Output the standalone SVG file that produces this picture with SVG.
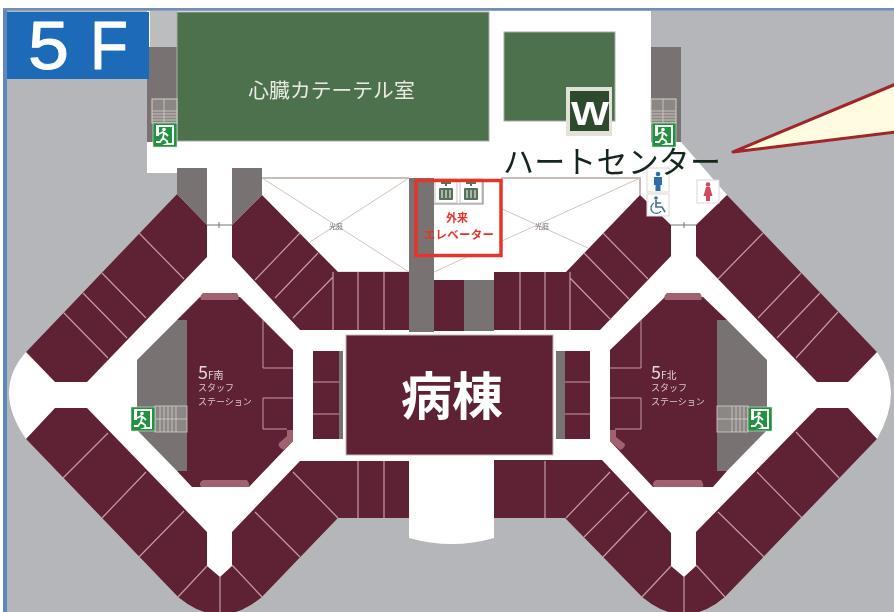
<svg xmlns="http://www.w3.org/2000/svg" xmlns:xlink="http://www.w3.org/1999/xlink" width="894" height="612" viewBox="0 0 894 612">
<style>
.m{fill:#5e2134}
.g{fill:#787372}
.gr{fill:#4d6f4e;stroke:#a9ada3;stroke-width:1}
.d{stroke:#c79aa4;stroke-width:1.2;fill:none}
.r{stroke:#c79aa4;stroke-width:1;fill:none}
.p{fill:#a0626f}
.w{stroke:#cfc5bf;stroke-width:1;fill:none}
.s{stroke:#d5cdc8;stroke-width:.8;fill:none}
.jp{font-family:"Noto Sans CJK JP","Liberation Sans",sans-serif}
.st{font-size:9px;fill:#dcc9cd}
.big{font-family:"Liberation Sans",sans-serif;font-size:68px;fill:#fff;stroke:#fff;stroke-width:1px;stroke-linejoin:round}
</style>
<defs>
<filter id="soft" x="0" y="0" width="100%" height="100%"><feGaussianBlur stdDeviation="0.4"/></filter>
<g id="exit">
<rect width="24" height="24" fill="#22923f" stroke="#dfe8df" stroke-width=".6"/>
<path d="M3 2H21V22H9L14 20H19V4H6V13H3Z" fill="#fff"/>
<circle cx="11" cy="6.500" r="1.800" fill="#fff"/>
<path d="M6 11L10 9L13 11L15 13M11 10L10 15L14 18L15 22M10 15L7 19L3 19" stroke="#fff" stroke-width="1.800" fill="none"/>
</g>
<g id="lift">
<rect width="22" height="24" fill="#fff" stroke="#b9b7b2" stroke-width=".8"/>
<rect x="4" y="9" width="14" height="12" rx="1" fill="#56705a"/>
<path d="M7 11V19M11 11V19M15 11V19" stroke="#fff" stroke-width="1"/>
<path d="M6 4H16M11 2V7" stroke="#56705a" stroke-width="2"/>
</g>
</defs>

<rect width="894" height="612" fill="#fff"/>
<g filter="url(#soft)">
<rect x="7" y="10" width="887" height="602" fill="#b4b6b9"/>
<rect x="3" y="9" width="4" height="603" fill="#5f87bb"/>
<rect x="3" y="8" width="891" height="2.500" fill="#6f8fb5"/>

<path id="floor" fill="#fff" d="M147 11H651V142H681L727 195L877 352Q905 390 877 439L725 597Q684 632 642 597L565 518H494V538Q452 550 409 538V518H338L262 597Q220 632 178 597L26 439Q-8 390 26 352L177 194V173H147Z"/>

<g id="shafts">
<rect x="150" y="11" width="27" height="36" fill="#bcbdbf"/>
<rect class="g" x="147" y="47" width="30" height="95"/>
<rect class="g" x="651" y="47" width="30" height="95"/>
<path class="g" d="M177 168H207V225L177 194Z"/>
<path class="g" d="M232 168H262V195L232 225Z"/>
<rect class="g" x="409" y="178" width="25" height="154"/>
<rect class="g" x="464" y="280" width="30" height="51"/>
</g>

<g id="floor-badge">
<rect x="7" y="12" width="142" height="67" fill="#1c6bb8"/>
<text class="big" x="28" y="69" textLength="41" lengthAdjust="spacingAndGlyphs">5</text>
<text class="big" x="90" y="69" textLength="38" lengthAdjust="spacingAndGlyphs">F</text>
</g>

<g id="cath-lab">
<rect class="gr" x="177" y="12" width="312" height="129"/>
<text class="jp" x="331.500" y="98" font-size="20.800" fill="#e9ebe3" text-anchor="middle">心臓カテーテル室</text>
</g>

<g id="wc">
<rect class="gr" x="504" y="32" width="111" height="89"/>
<rect x="566" y="87" width="46" height="49" fill="#e2e2d8"/>
<rect x="570" y="91" width="39" height="40" fill="#2f4a2d"/>
<text x="590" y="125" font-family="Liberation Sans,sans-serif" font-weight="700" font-size="34" fill="#fff" text-anchor="middle" textLength="38" lengthAdjust="spacingAndGlyphs">W</text>
</g>

<g id="light-wells">
<path d="M262 178H409M501 178H640V195" stroke="#b3a9a2" stroke-width="1.500" fill="none"/>
<path class="w" d="M262 178L409 272M409 178L310 242M409 272H338"/>
<path class="w" d="M640 178L434 272M434 178L588 248"/>
<text class="jp" x="336" y="229" font-size="7" fill="#776f6c" text-anchor="middle">光庭</text>
<text class="jp" x="542" y="229" font-size="7" fill="#776f6c" text-anchor="middle">光庭</text>
</g>

<g id="wards">
<path class="m" d="M177 194L26 352L55 382H87L207 257V225Z"/>
<path class="m" d="M262 195L232 225V257L300 330H409V272H338Z"/>
<rect class="m" x="434" y="280" width="30" height="51"/>
<path class="m" d="M640 195L566 272H494V330H600L671 256V225Z"/>
<path class="m" d="M727 195L696 225V256L817 382H848L877 352Z"/>
<path class="m" d="M877 439L848 408H817L696 532V566L684 577L671 566V533L602 460H494V518H565L642 597Q684 632 725 597Z"/>
<path class="m" d="M26 439L55 408H87L207 532V566L220 577L232 566V532L300 461H409V518H338L262 597Q220 632 178 597Z"/>
<path class="d" d="M139 233L184 279M102 273L146 318M83 293L127 338M63 312L108 358"/>
<path class="d" d="M300 233L255 280M318 253L275 298M333 277L293 318M333 272V330M358 272V330M384 272V330"/>
<path class="d" d="M603 233L648 279M584 253L629 299M570 278L611 320M520 272V330M545 272V330M570 272V330"/>
<path class="d" d="M763 233L718 279M801 273L758 318M820 293L777 338M838 312L796 358"/>
<path class="d" d="M796 432L839 478M757 472L802 518M718 512L764 557M696 565L725 597M610 472L566 518M629 492L584 537M647 511L603 557M671 566L642 597M545 461V518M684 577V612"/>
<path class="d" d="M108 433L63 478M146 472L102 518M184 511L139 557M207 566L178 597M293 472L338 518M255 512L300 557M232 565L262 597M358 461V518M384 461V518M220 577V612"/>
<path d="M207 225H232M671 225H696" stroke="#777" stroke-width="1"/>
<path d="M219 222V228M684 222V228" stroke="#777" stroke-width="1"/>
</g>

<g id="south-station">
<path class="m" d="M200 297H240L293 350V441L249 487H192L177 471H187V320H177Z"/>
<path class="g" d="M177 320H187V471H177L137 430V360Z"/>
<path class="p" d="M203 293H237Q240 297 238 300H201Q199 296 203 293Z"/>
<path class="p" d="M203 480H247Q250 484 249 487H201Q198 483 203 480Z"/>
<path class="p" d="M287 430H293V441L284 450Q277 447 279 443L287 436Z"/>
<path class="r" d="M263 320V368H293M293 398H263V429H287"/>
<rect x="155" y="406" width="32" height="26" fill="#8b8785" stroke="#d5cdc8" stroke-width=".8"/>
<path class="s" d="M156 419H187M176 406V432M160 406V432M164 406V432M168 406V432M172 406V432"/>
<use xlink:href="#exit" href="#exit" x="131" y="407"/>
<text class="jp" x="198" y="378.500"><tspan font-size="18" fill="#e3d5d8">5</tspan><tspan font-size="10" fill="#e3d5d8">F南</tspan></text>
<text class="jp st" x="198" y="391">スタッフ</text>
<text class="jp st" x="198" y="405">ステーション</text>
</g>

<g id="north-station">
<path class="m" d="M665 297H703L727 320H717V471H727L713 487H653L610 441V350Z"/>
<path class="g" d="M717 320H727L767 360V430L727 471H717Z"/>
<path class="p" d="M667 293H700Q703 297 701 300H665Q663 296 667 293Z"/>
<path class="p" d="M656 480H701Q704 484 703 487H654Q651 483 656 480Z"/>
<path class="p" d="M610 430H616V437L625 444Q625 448 620 450L610 441Z"/>
<path class="r" d="M641 320V368H610M610 398H641V429H615"/>
<rect x="717" y="406" width="31" height="26" fill="#8b8785" stroke="#d5cdc8" stroke-width=".8"/>
<path class="s" d="M717 419H748M732 406V432M736 406V432M740 406V432M744 406V432"/>
<use xlink:href="#exit" href="#exit" x="748" y="407"/>
<text class="jp" x="651" y="378.500"><tspan font-size="18" fill="#e3d5d8">5</tspan><tspan font-size="10" fill="#e3d5d8">F北</tspan></text>
<text class="jp st" x="651" y="391">スタッフ</text>
<text class="jp st" x="651" y="405">ステーション</text>
</g>

<g id="ward-core">
<rect class="m" x="346" y="335" width="207" height="120" stroke="#c7b9b4" stroke-width="1"/>
<text class="jp" x="452" y="415" font-size="51" font-weight="700" fill="#fff" text-anchor="middle">病棟</text>
<rect class="m" x="313" y="351" width="26" height="88"/>
<rect class="g" x="339" y="351" width="4" height="88"/>
<rect class="m" x="565" y="351" width="25" height="88"/>
<rect class="g" x="556" y="351" width="9" height="88"/>
<path class="d" d="M313 382H339M313 414H339M565 382H590M565 414H590"/>
</g>

<g id="elevators">
<rect x="434" y="178" width="65" height="78" fill="#fff"/>
<use xlink:href="#lift" href="#lift" x="435" y="179"/>
<use xlink:href="#lift" href="#lift" x="460" y="179"/>
<path d="M434 204H483V179" stroke="#8f8d89" stroke-width="1.200" fill="none"/>
<rect x="416" y="180.500" width="85" height="75" fill="none" stroke="#e5342b" stroke-width="3.500"/>
<text class="jp" x="457" y="222" font-size="11" font-weight="700" fill="#e5342b" text-anchor="middle">外来</text>
<text class="jp" x="459" y="238.500" font-size="11.400" font-weight="700" fill="#e5342b" text-anchor="middle" letter-spacing=".4">エレベーター</text>
</g>

<g id="exit-north-west">
<rect x="152" y="99" width="25" height="24" fill="#8b8785" stroke="#d5cdc8"/>
<path class="s" d="M164 99V123M152 111H177M152 114H177M152 117H177M152 120H177"/>
<use xlink:href="#exit" href="#exit" x="153" y="123"/>
</g>
<g id="exit-north-east">
<rect x="651" y="99" width="25" height="24" fill="#8b8785" stroke="#d5cdc8"/>
<path class="s" d="M663 99V123M651 111H676M651 114H676M651 117H676M651 120H676"/>
<use xlink:href="#exit" href="#exit" x="652" y="123"/>
</g>

<g id="restrooms">
<rect x="647" y="168" width="22" height="24" fill="#fff" stroke="#dcd8d4"/>
<circle cx="658" cy="174" r="2.300" fill="#2f6ea8"/>
<path d="M654 177H662V185H660.500V191H655.500V185H654Z" fill="#2f6ea8"/>
<rect x="647" y="194" width="22" height="22" fill="#fff" stroke="#dcd8d4"/>
<circle cx="656" cy="198" r="1.800" fill="#3d7096"/>
<path d="M656 200V207H662L665 212M656 203H661" stroke="#3d7096" stroke-width="1.600" fill="none"/>
<path d="M654 203A5.500 5.500 0 1 0 661 211" stroke="#3d7096" stroke-width="1.300" fill="none"/>
<rect x="697" y="180" width="22" height="23" fill="#fff" stroke="#dcd8d4"/>
<circle cx="708" cy="184.500" r="2.300" fill="#d24a60"/>
<path d="M706 187H710L712.500 196H710V201H706V196H703.500Z" fill="#d24a60"/>
</g>

<g id="callout">
<path d="M896 84L733 152L896 132Z" fill="#fffbe0" stroke="#a0262a" stroke-width="3" stroke-linejoin="round"/>
<text class="jp" x="503" y="173" font-size="31" font-weight="400" fill="#14261a" textLength="218" lengthAdjust="spacing">ハートセンター</text>
</g>
</g>
</svg>
